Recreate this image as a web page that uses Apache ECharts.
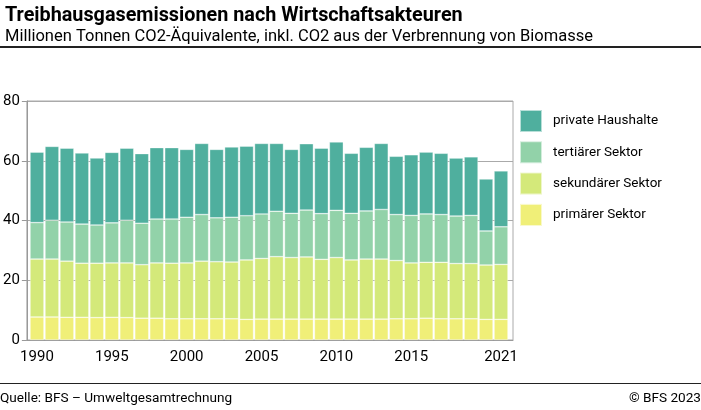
<!DOCTYPE html>
<html><head><meta charset="utf-8">
<script src="https://cdn.jsdelivr.net/npm/echarts@6/dist/echarts.min.js"></script>
<style>html,body{margin:0;padding:0;background:#fff}#c{width:701px;height:410px}</style>
</head><body><div id="c"></div>
<script>
const years = ['1990','1991','1992','1993','1994','1995','1996','1997','1998','1999','2000','2001','2002','2003','2004','2005','2006','2007','2008','2009','2010','2011','2012','2013','2014','2015','2016','2017','2018','2019','2020','2021'];
const primaer = [7.7,7.7,7.6,7.6,7.5,7.6,7.5,7.3,7.3,7.1,7.1,7.1,7.1,7.1,6.9,7.0,7.0,7.0,7.0,7.0,7.0,7.0,7.0,7.0,7.1,7.1,7.3,7.1,7.1,7.1,6.9,6.9];
const sekundaer = [19.4,19.4,18.8,18.1,18.2,18.2,18.3,17.9,18.5,18.6,18.7,19.3,19.1,19.0,19.9,20.3,20.9,20.6,20.8,20.0,20.6,19.8,20.1,20.1,19.5,18.7,18.7,18.9,18.5,18.5,18.2,18.4];
const tertiaer = [12.2,13.0,13.1,13.1,12.8,13.4,14.3,13.9,14.7,14.8,15.3,15.6,14.7,15.0,14.8,14.9,15.2,14.8,15.7,15.3,15.8,15.6,16.1,16.6,15.4,15.9,16.2,16.0,15.9,16.1,11.4,12.6];
const haushalte = [23.6,24.7,24.7,23.8,22.4,23.6,24.1,23.3,23.9,23.9,22.7,23.8,22.9,23.5,23.3,23.6,22.7,21.4,22.2,21.9,22.9,20.1,21.3,22.1,19.5,20.3,20.7,20.5,19.4,19.6,17.4,18.7];
const yTicks = [0,20,40,60,80];
const xLabelYears = ['1990','1995','2000','2005','2010','2015','2021'];

const font = 'Roboto, "Liberation Sans", sans-serif';
const chart = echarts.init(document.getElementById('c'), null, {renderer:'canvas'});
const mk = (name, data, color) => ({
  name, type:'bar', stack:'t', data, barCategoryGap:'7%', xAxisIndex:1, yAxisIndex:1,
  itemStyle:{color, borderColor:'rgba(255,255,255,0.6)', borderWidth:0.6},
  emphasis:{disabled:true}
});
chart.setOption({
  animation:false,
  title:[
    {text:'Treibhausgasemissionen nach Wirtschaftsakteuren', left:0, top:1,
     textStyle:{fontFamily:font, fontWeight:'bold', fontSize:19.8, color:'#000'}},
    {text:'Millionen Tonnen CO2-Äquivalente, inkl. CO2 aus der Verbrennung von Biomasse', left:0, top:23,
     textStyle:{fontFamily:font, fontWeight:'normal', fontSize:16.5, color:'#000'}}
  ],
  legend:{
    orient:'vertical', left:519, top:109, padding:0, itemWidth:22, itemHeight:22, itemGap:7.3,
    icon:'rect', selectedMode:false,
    data:['private Haushalte','tertiärer Sektor','sekundärer Sektor','primärer Sektor'],
    textStyle:{fontFamily:font, fontSize:13.5, color:'#000', padding:[0,0,0,6]}
  },
  grid:[
    {left:25, right:188, top:101, bottom:70, show:true, borderColor:'#aaa', borderWidth:1},
    {left:29.5, right:192.5, top:101, bottom:70}
  ],
  xAxis:[
    {type:'category', gridIndex:0, data:years,
     axisLine:{lineStyle:{color:'#999'}}, axisTick:{show:false}, axisLabel:{show:false}},
    {type:'category', gridIndex:1, data:years,
     axisLine:{show:false}, axisTick:{show:false},
     axisLabel:{fontFamily:font, fontSize:15, color:'#000', margin:10,
       interval:(i, v) => xLabelYears.includes(v)}}
  ],
  yAxis:[
    {type:'value', gridIndex:0, min:yTicks[0], max:yTicks[yTicks.length-1], interval:20,
     axisLine:{show:true, lineStyle:{color:'#999'}},
     axisTick:{show:true, length:5, lineStyle:{color:'#999'}},
     axisLabel:{fontFamily:font, fontSize:15, color:'#000', margin:7},
     splitLine:{lineStyle:{color:'#aaa'}}},
    {type:'value', gridIndex:1, min:yTicks[0], max:yTicks[yTicks.length-1], interval:20,
     axisLine:{show:false}, axisTick:{show:false}, axisLabel:{show:false}, splitLine:{show:false}}
  ],
  series:[
    mk('primärer Sektor', primaer, '#f0ef78'),
    mk('sekundärer Sektor', sekundaer, '#d4e97a'),
    mk('tertiärer Sektor', tertiaer, '#92d2a9'),
    mk('private Haushalte', haushalte, '#4faf9e')
  ],
  graphic:[
    {type:'rect', shape:{x:0, y:46, width:701, height:2}, style:{fill:'#222'}},
    {type:'rect', shape:{x:0, y:383, width:701, height:1}, style:{fill:'#222'}},
    {type:'text', left:0, top:392, style:{text:'Quelle: BFS – Umweltgesamtrechnung', font:'13.6px '+font, fill:'#000'}},
    {type:'text', right:0, top:392, style:{text:'© BFS 2023', font:'13.6px '+font, fill:'#000'}}
  ]
});
</script></body></html>
